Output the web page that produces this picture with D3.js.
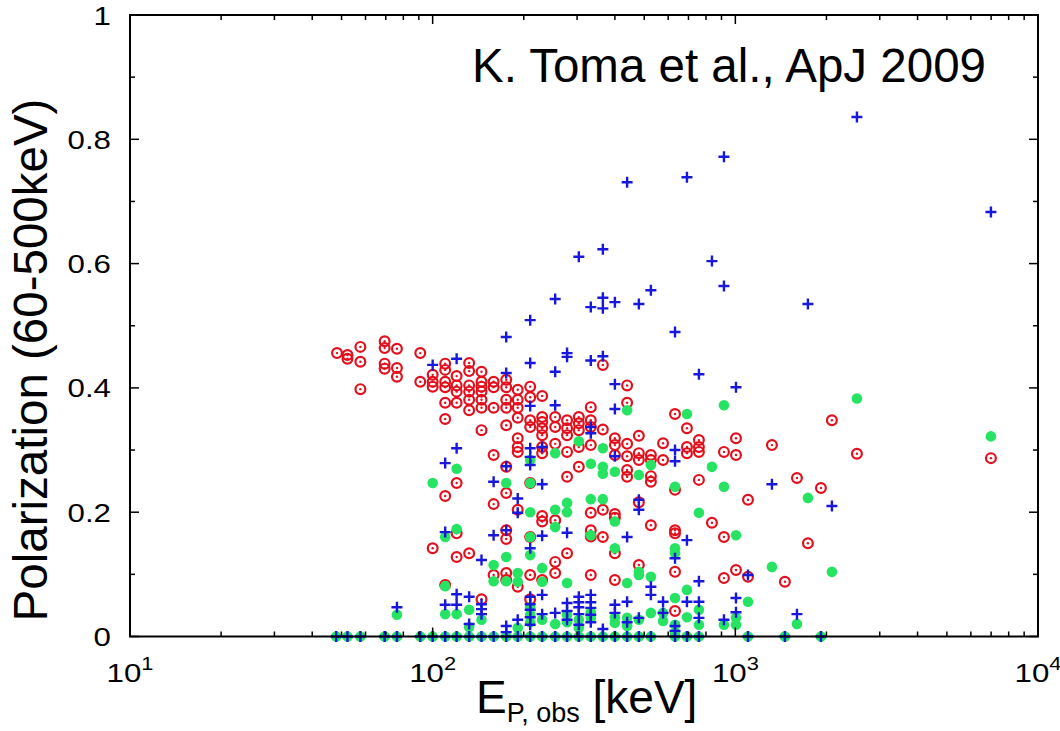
<!DOCTYPE html>
<html>
<head>
<meta charset="utf-8">
<script src="https://cdn.jsdelivr.net/npm/d3@7"></script>
<style>
  body { margin: 0; background: #fff; }
  svg { display: block; }
  text { font-family: "Liberation Sans", Arial, Helvetica, sans-serif; fill: #000; }
</style>
</head>
<body>
<svg id="chart" width="1060" height="731"></svg>
<script>
// Axis ticks
const xTickValues = [10, 100, 1000, 10000];
const xTickExponents = ["1", "2", "3", "4"];
const yTickValues = [0, 0.2, 0.4, 0.6, 0.8, 1];
const yTickLabels = ["0", "0.2", "0.4", "0.6", "0.8", "1"];

// Peak energies (keV) of bursts with zero polarization (both samples)
const zeroPolE = [48, 52.3, 57.7, 69.4, 76.2, 91, 100, 110, 120, 132, 145, 159, 175, 191,
  210, 230, 254, 278, 304, 333, 365, 400, 439, 480, 526, 632, 692, 758, 1101, 1458, 1918];

// Red rings: [E_p (keV), [polarization values]]
const ringSeries = [
  [48.3, [0.456]],
  [52.3, [0.453, 0.447]],
  [57.7, [0.466, 0.442, 0.398]],
  [69.4, [0.475, 0.464, 0.439, 0.431]],
  [76.2, [0.463, 0.432, 0.418]],
  [91, [0.456, 0.410]],
  [100, [0.421, 0.410, 0.402, 0.142]],
  [110, [0.439, 0.429, 0.410, 0.401, 0.376, 0.350, 0.226, 0.083]],
  [120, [0.419, 0.404, 0.394, 0.376, 0.247, 0.166, 0.128]],
  [132, [0.440, 0.427, 0.404, 0.394, 0.381, 0.364, 0.134]],
  [145, [0.426, 0.410, 0.402, 0.394, 0.381, 0.368, 0.332, 0.060]],
  [159, [0.410, 0.401, 0.368, 0.292, 0.213, 0.099]],
  [175, [0.413, 0.401, 0.381, 0.368, 0.340, 0.273, 0.231, 0.171, 0.157, 0.102, 0.091]],
  [191, [0.397, 0.381, 0.368, 0.352, 0.319, 0.305, 0.297, 0.204, 0.080]],
  [210, [0.402, 0.385, 0.348, 0.337, 0.247, 0.160, 0.099, 0.060]],
  [230, [0.387, 0.353, 0.345, 0.335, 0.324, 0.305, 0.295, 0.194, 0.185, 0.091]],
  [254, [0.353, 0.337, 0.310, 0.187, 0.120, 0.102]],
  [278, [0.348, 0.335, 0.324, 0.297, 0.257, 0.134]],
  [304, [0.353, 0.343, 0.332, 0.305, 0.273]],
  [333, [0.369, 0.348, 0.337, 0.308, 0.199, 0.171, 0.161, 0.099]],
  [365, [0.437, 0.333, 0.204, 0.160]],
  [400, [0.319, 0.308, 0.292, 0.197, 0.191, 0.134, 0.091]],
  [439, [0.404, 0.376, 0.310, 0.290, 0.268, 0.257]],
  [480, [0.323, 0.295, 0.284, 0.216, 0.115]],
  [526, [0.292, 0.284, 0.258, 0.249, 0.179]],
  [577, [0.311, 0.284]],
  [632, [0.358, 0.236, 0.171, 0.166, 0.104, 0.041]],
  [692, [0.335, 0.305, 0.295]],
  [758, [0.316, 0.305, 0.297, 0.252]],
  [837, [0.183]],
  [917, [0.297, 0.160, 0.094]],
  [1005, [0.319, 0.292, 0.107]],
  [1101, [0.220, 0.096]],
  [1321, [0.308]],
  [1458, [0.088]],
  [1598, [0.255]],
  [1737, [0.150]],
  [1918, [0.239]],
  [2085, [0.348]],
  [2522, [0.294]],
  [6990, [0.287]]
];

// Green filled dots: [E_p (keV), [polarization values]]
const dotSeries = [
  [76.2, [0.035]],
  [100, [0.247]],
  [110, [0.160, 0.081, 0.036]],
  [120, [0.270, 0.173, 0.036]],
  [132, [0.043, 0.015]],
  [145, [0.027]],
  [159, [0.115, 0.089]],
  [175, [0.247, 0.128, 0.089]],
  [191, [0.102, 0.088, 0.014]],
  [210, [0.284, 0.247, 0.200, 0.160, 0.131, 0.047, 0.035, 0.023]],
  [230, [0.110, 0.088, 0.027]],
  [254, [0.295, 0.204, 0.176, 0.020]],
  [278, [0.215, 0.200, 0.086, 0.035, 0.023]],
  [304, [0.314, 0.027, 0.014]],
  [333, [0.278, 0.221, 0.163, 0.039, 0.030]],
  [365, [0.303, 0.273, 0.262, 0.221]],
  [400, [0.265, 0.185, 0.142, 0.031, 0.022]],
  [439, [0.364, 0.086, 0.030, 0.017]],
  [480, [0.260, 0.104, 0.099, 0.027]],
  [526, [0.276, 0.096, 0.038]],
  [577, [0.038, 0.025]],
  [632, [0.241, 0.142, 0.134, 0.062, 0.019, 0.006]],
  [692, [0.358, 0.075, 0.031]],
  [758, [0.199, 0.043, 0.019]],
  [837, [0.273]],
  [917, [0.372, 0.241, 0.019]],
  [1005, [0.163, 0.030, 0.019]],
  [1101, [0.056]],
  [1321, [0.112]],
  [1598, [0.020]],
  [1737, [0.223]],
  [2085, [0.104]],
  [2522, [0.383]],
  [6990, [0.322]]
];

// Blue crosses: [E_p (keV), [polarization values]]
const crossSeries = [
  [76.2, [0.047]],
  [100, [0.437]],
  [110, [0.279, 0.168, 0.051]],
  [120, [0.447, 0.303, 0.068, 0.051]],
  [132, [0.064, 0.020]],
  [145, [0.123, 0.052, 0.044, 0.036]],
  [159, [0.249, 0.163]],
  [175, [0.482, 0.424, 0.274, 0.171, 0.017, 0.007]],
  [191, [0.222, 0.199, 0.027]],
  [210, [0.509, 0.440, 0.371, 0.303, 0.289, 0.276, 0.142, 0.064, 0.052, 0.043, 0.031, 0.019]],
  [230, [0.305, 0.245, 0.162, 0.067, 0.036]],
  [254, [0.543, 0.426, 0.372, 0.038]],
  [278, [0.456, 0.450, 0.167, 0.054, 0.041, 0.027]],
  [304, [0.611, 0.064, 0.055, 0.047, 0.036, 0.019]],
  [333, [0.530, 0.444, 0.337, 0.327, 0.067, 0.055, 0.046, 0.035, 0.023]],
  [365, [0.623, 0.545, 0.528, 0.451, 0.012]],
  [400, [0.538, 0.406, 0.366, 0.290, 0.051, 0.038]],
  [439, [0.731, 0.160, 0.056, 0.023]],
  [480, [0.535, 0.220, 0.204, 0.030]],
  [526, [0.557, 0.080, 0.067]],
  [577, [0.056, 0.038]],
  [632, [0.490, 0.300, 0.282, 0.126, 0.017, 0.009]],
  [692, [0.739, 0.155, 0.056]],
  [758, [0.422, 0.089, 0.056, 0.030]],
  [837, [0.604]],
  [917, [0.772, 0.564, 0.027]],
  [1005, [0.401, 0.062, 0.039]],
  [1101, [0.099]],
  [1321, [0.245]],
  [1598, [0.036]],
  [1737, [0.535]],
  [2085, [0.210]],
  [2522, [0.836]],
  [6990, [0.683]]
];

const colors = { ring: "#e2101c", dot: "#26e462", cross: "#1818dc" };

const svg = d3.select("#chart");
const plot = { left: 130, right: 1038, top: 15, bottom: 636.5 };

const x = d3.scaleLog().domain([10, 10000]).range([plot.left, plot.right]);
const y = d3.scaleLinear().domain([0, 1]).range([plot.bottom, plot.top]);

const flatten = series => series.flatMap(([e, ps]) => ps.map(p => ({ e, p })));
const rings = flatten(ringSeries);
const dots = flatten(dotSeries).concat(zeroPolE.map(e => ({ e, p: 0 })));
const crosses = flatten(crossSeries).concat(zeroPolE.map(e => ({ e, p: 0 })));

// Red open circles with a centre dot
const gRing = svg.append("g");
gRing.selectAll("circle.ring").data(rings).join("circle")
  .attr("class", "ring")
  .attr("cx", d => x(d.e)).attr("cy", d => y(d.p))
  .attr("r", 4.9)
  .attr("fill", "none").attr("stroke", colors.ring).attr("stroke-width", 2.2);
gRing.selectAll("circle.core").data(rings).join("circle")
  .attr("class", "core")
  .attr("cx", d => x(d.e)).attr("cy", d => y(d.p))
  .attr("r", 1.2).attr("fill", colors.ring);

// Green filled circles
svg.append("g").selectAll("circle").data(dots).join("circle")
  .attr("cx", d => x(d.e)).attr("cy", d => y(d.p))
  .attr("r", 5.3).attr("fill", colors.dot);

// Blue plus marks
svg.append("g").selectAll("path").data(crosses).join("path")
  .attr("transform", d => `translate(${x(d.e)},${y(d.p)})`)
  .attr("d", "M-5.5,0H5.5M0,-5.5V5.5")
  .attr("stroke", colors.cross).attr("stroke-width", 2.4).attr("fill", "none");

// Frame and inward ticks
const axes = svg.append("g").attr("stroke", "#000").attr("fill", "none");
const majorLen = 9, minorLen = 5;

const yMinor = d3.range(0.1, 1, 0.2);
yTickValues.forEach(v => {
  axes.append("line").attr("x1", plot.left).attr("x2", plot.left + majorLen)
    .attr("y1", y(v)).attr("y2", y(v)).attr("stroke-width", 1.5);
  axes.append("line").attr("x1", plot.right).attr("x2", plot.right - majorLen)
    .attr("y1", y(v)).attr("y2", y(v)).attr("stroke-width", 1.5);
});
yMinor.forEach(v => {
  axes.append("line").attr("x1", plot.left).attr("x2", plot.left + minorLen)
    .attr("y1", y(v)).attr("y2", y(v)).attr("stroke-width", 1.5);
  axes.append("line").attr("x1", plot.right).attr("x2", plot.right - minorLen)
    .attr("y1", y(v)).attr("y2", y(v)).attr("stroke-width", 1.5);
});

const xMinor = [];
[10, 100, 1000].forEach(d => { for (let m = 2; m <= 9; m++) xMinor.push(m * d); });
xTickValues.forEach(v => {
  axes.append("line").attr("x1", x(v)).attr("x2", x(v))
    .attr("y1", plot.bottom).attr("y2", plot.bottom - majorLen).attr("stroke-width", 1.5);
  axes.append("line").attr("x1", x(v)).attr("x2", x(v))
    .attr("y1", plot.top).attr("y2", plot.top + majorLen).attr("stroke-width", 1.5);
});
xMinor.forEach(v => {
  axes.append("line").attr("x1", x(v)).attr("x2", x(v))
    .attr("y1", plot.bottom).attr("y2", plot.bottom - minorLen).attr("stroke-width", 1.5);
  axes.append("line").attr("x1", x(v)).attr("x2", x(v))
    .attr("y1", plot.top).attr("y2", plot.top + minorLen).attr("stroke-width", 1.5);
});

axes.append("rect")
  .attr("x", plot.left).attr("y", plot.top)
  .attr("width", plot.right - plot.left).attr("height", plot.bottom - plot.top)
  .attr("stroke-width", 2);

// Tick labels (slightly wide lettering)
const labelStretch = 1.18;
svg.append("g").selectAll("text").data(yTickValues).join("text")
  .attr("transform", d => `translate(111,${y(d)}) scale(${labelStretch},1)`)
  .attr("dy", "0.36em")
  .attr("text-anchor", "end").style("font-size", "26.5px")
  .text((d, i) => yTickLabels[i]);

const xl = svg.append("g").selectAll("text").data(xTickValues).join("text")
  .attr("transform", d => `translate(${x(d)},682) scale(${labelStretch},1)`)
  .attr("text-anchor", "middle").style("font-size", "26.5px");
xl.append("tspan").text("10");
xl.append("tspan").attr("dy", -12).style("font-size", "18.5px").text((d, i) => xTickExponents[i]);

// Axis titles
const xt = svg.append("text").attr("x", 476).attr("y", 713).style("font-size", "46px");
xt.append("tspan").text("E");
xt.append("tspan").attr("dy", 9).style("font-size", "27px").text("P, obs");
xt.append("tspan").attr("dy", -9).text(" [keV]");

svg.append("text")
  .attr("transform", "translate(47,360) rotate(-90)")
  .attr("text-anchor", "middle").style("font-size", "47.5px")
  .text("Polarization (60-500keV)");

// Reference note
svg.append("text").attr("x", 986).attr("y", 82)
  .attr("text-anchor", "end").style("font-size", "47.5px")
  .text("K. Toma et al., ApJ 2009");
</script>
</body>
</html>
